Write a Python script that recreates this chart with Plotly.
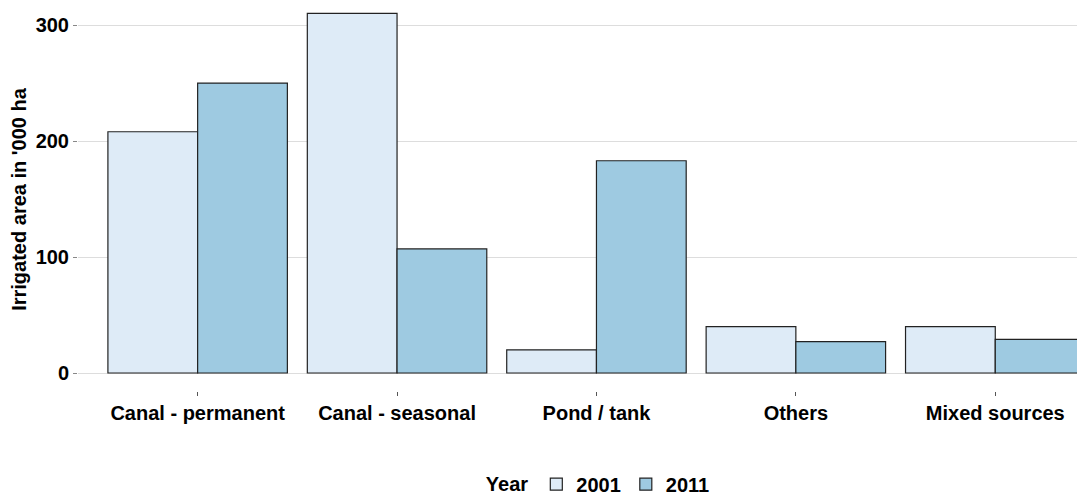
import plotly.graph_objects as go

categories = ["Canal - permanent", "Canal - seasonal", "Pond / tank", "Others", "Mixed sources"]
years = ["2001", "2011"]
values_2001 = [208, 310, 20, 40, 40]
values_2011 = [250, 107, 183, 27, 29]
colors = {"2001": "#DEEBF7", "2011": "#9ECAE1"}
y_ticks = [0, 100, 200, 300]

font_family = "Liberation Sans, Arial, sans-serif"
FS = 20

fig = go.Figure()
for yr, vals in zip(years, [values_2001, values_2011]):
    fig.add_trace(go.Bar(
        x=categories, y=vals, name=f"<b>{yr}</b>",
        marker=dict(color=colors[yr], line=dict(color="#222222", width=1.2)),
    ))

fig.update_layout(
    width=1085, height=495,
    margin=dict(l=70, r=8, t=0, b=112),
    paper_bgcolor="white", plot_bgcolor="white",
    barmode="group", bargap=0.1, bargroupgap=0,
    font=dict(family=font_family, color="black", size=FS),
    legend=dict(
        orientation="h", x=0.545, xanchor="center", xref="container",
        y=0.038, yanchor="middle", yref="container",
        title=dict(text="<b>Year</b>", font=dict(size=FS, family=font_family), side="left"),
        font=dict(size=FS, family=font_family),
        itemwidth=30, tracegroupgap=0,
    ),
    showlegend=True,
)
fig.update_xaxes(
    range=[-0.6, 4.45], showgrid=False, zeroline=False, showline=False,
    ticks="outside", ticklen=4, tickcolor="#555555", tickwidth=1,
    tickvals=categories, ticktext=[f"<b>{c}</b>" for c in categories],
    tickfont=dict(size=FS, family=font_family, color="black"),
)
fig.update_yaxes(
    range=[-15.5, 314.7], tickvals=y_ticks, ticktext=[f"<b>{v}</b>" for v in y_ticks],
    showgrid=True, gridcolor="#DDDDDD", gridwidth=1,
    zeroline=False, showline=False,
    ticks="outside", ticklen=4, tickcolor="#888888", tickwidth=1,
    tickfont=dict(size=FS, family=font_family, color="black"),
    title=dict(text="<b>Irrigated area in '000 ha</b>", font=dict(size=FS, family=font_family), standoff=6),
)

fig.write_html("out.html")
